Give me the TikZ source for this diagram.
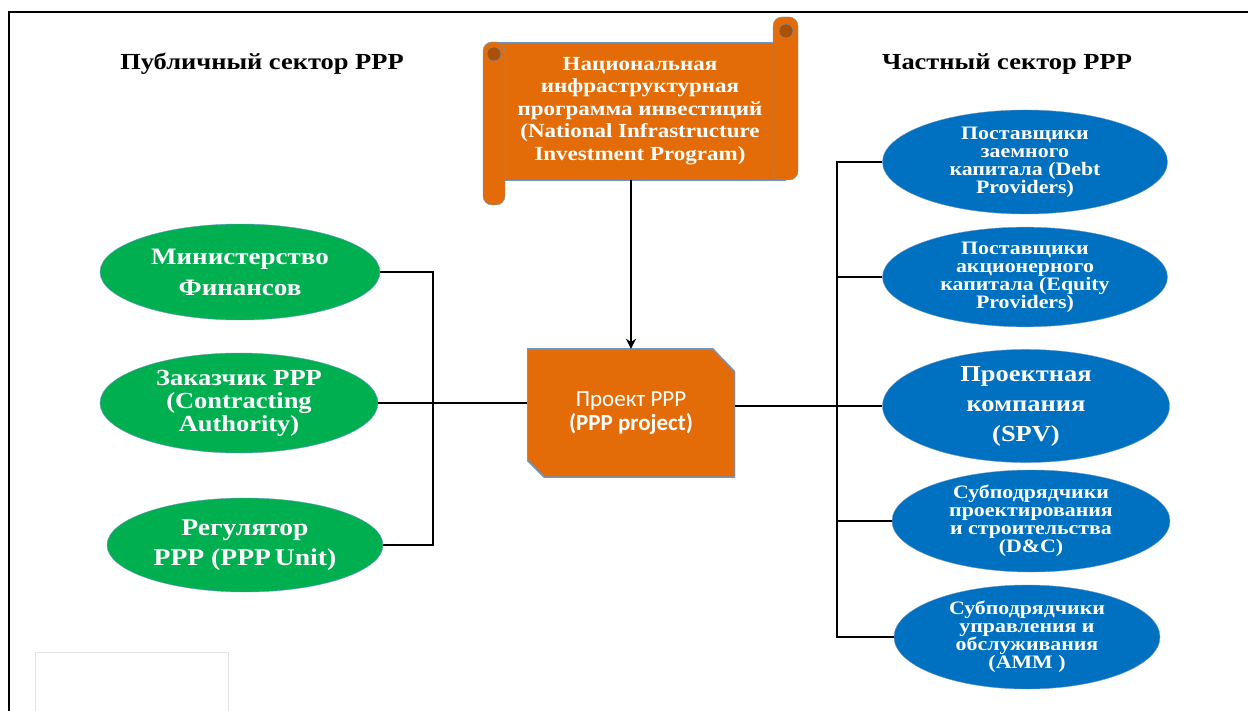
\documentclass[tikz,border=0pt]{standalone}
\usepackage{fontspec}
\setmainfont{Liberation Serif}[FakeStretch=1.15]
\newfontfamily\calibri{Carlito}
\usetikzlibrary{shapes.geometric,arrows.meta}
\definecolor{pppgreen}{RGB}{0,176,80}
\definecolor{pppblue}{RGB}{0,112,192}
\definecolor{ppporange}{RGB}{227,108,9}
\definecolor{rim}{RGB}{110,150,200}
\tikzset{
  pub/.style={draw=rim, fill=pppgreen, ellipse, inner sep=0, align=center, text=white, font=\bfseries\fontsize{23.5}{31}\selectfont},
  priv/.style={draw=rim, fill=pppblue, ellipse, inner sep=0, align=center, text=white, font=\bfseries\fontsize{19}{18}\selectfont},
  wire/.style={line width=2},
  title/.style={font=\bfseries\fontsize{23}{26}\selectfont},
  roll/.style={draw=rim, fill=ppporange, rounded corners=9},
  projbox/.style={minimum width=208, minimum height=128, inner sep=0, align=center, text=white,
    font=\calibri\fontsize{23}{24}\selectfont,
    path picture={\filldraw[draw=rim, fill=ppporange, line width=1.5]
      (path picture bounding box.north west) -- ([xshift=-22pt]path picture bounding box.north east)
      -- ([yshift=-23pt]path picture bounding box.north east) -- (path picture bounding box.south east)
      -- ([xshift=17pt]path picture bounding box.south west) -- ([yshift=17pt]path picture bounding box.south west) -- cycle;}}
}
\begin{document}
\begin{tikzpicture}[x=1pt,y=-1pt]
\useasboundingbox (0,0) rectangle (1248,711);
\draw[line width=2] (9,711) -- (9,12) -- (1248,12);
\draw[black!10] (35,711) -- (35,652) -- (228,652) -- (228,711);

\node[title] (pubt) at (262,64) {Публичный сектор PPP};
\node[title] (privt) at (1007,64) {Частный сектор PPP};

\node[draw=rim, fill=ppporange, minimum width=290, minimum height=138, inner sep=0, align=center, text=white,
  font=\bfseries\fontsize{20}{22.5}\selectfont] (nip) at (640,111)
  {Национальная\\инфраструктурная\\программа инвестиций\\(National Infrastructure\\Investment Program)};
\filldraw[roll] (483,42) rectangle (505,205);
\filldraw[roll] (773,17) rectangle (798,180);
\filldraw[draw=rim, fill=ppporange!75!black] (494,54) circle (7);
\filldraw[draw=rim, fill=ppporange!75!black] (786,31) circle (7);

\node[projbox] (proj) at (631,413) {Проект PPP\\{\bfseries (PPP project)}};
\draw[wire, -{Stealth[length=10pt,width=10pt]}] (proj.north |- nip.south) -- (proj.north);

\node[pub, minimum width=280, minimum height=96] (min) at (240,272) {Министерство\\Финансов};
\node[pub, minimum width=278, minimum height=100, font=\bfseries\fontsize{23}{23}\selectfont] (zak) at (239,403) {Заказчик PPP\\(Contracting\\Authority)};
\node[pub, minimum width=276, minimum height=94, font=\bfseries\fontsize{24}{30}\selectfont] (reg) at (245,545) {Регулятор\\PPP (PPP\,Unit)};

\node[priv, minimum width=285, minimum height=104] (debt) at (1025,162) {Поставщики\\заемного\\капитала (Debt\\Providers)};
\node[priv, minimum width=285, minimum height=94] (eq) at (1025,277) {Поставщики\\акционерного\\капитала (Equity\\Providers)};
\node[priv, minimum width=287, minimum height=104, font=\bfseries\fontsize{23}{30}\selectfont] (spv) at (1026,406) {Проектная\\компания\\(SPV)};
\node[priv, minimum width=278, minimum height=102] (dc) at (1031,521) {Субподрядчики\\проектирования\\и строительства\\(D\&C)};
\node[priv, minimum width=266, minimum height=104] (amm) at (1027,637) {Субподрядчики\\управления и\\обслуживания\\(AMM )};

\draw[wire] (min.east) -- ++(53,0) |- (reg.east);
\draw[wire] (zak.east) -- (zak.east -| proj.west);
\draw[wire] (proj.east |- spv.west) -- (spv.west);
\draw[wire] (debt.west) -- ++(-45,0) coordinate (rbus) |- (amm.west);
\draw[wire] (rbus |- eq.west) -- (eq.west);
\draw[wire] (rbus |- dc.west) -- (dc.west);
\end{tikzpicture}
\end{document}
